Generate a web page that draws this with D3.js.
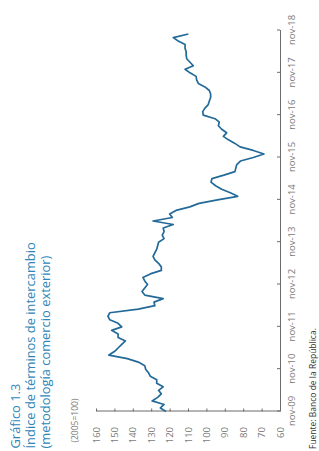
<!DOCTYPE html>
<html>
<head>
<meta charset="utf-8">
<style>
  body { margin: 0; background: #fff; }
  svg { display: block; font-family: "Open Sans", sans-serif; }
</style>
</head>
<body>
<svg width="319" height="451" id="chart"></svg>
<script src="https://cdnjs.cloudflare.com/ajax/libs/d3/7.8.5/d3.min.js"></script>
<script>

// monthly index, nov-09 .. oct-18
const values = [
  122, 125, 123, 129.5, 126.5, 124.5, 126, 123.5, 127, 127, 130.5, 131.5,
  133, 133.5, 137, 143, 153, 150, 148, 146, 144, 148, 148, 151.5,
  146, 148, 152.5, 153.5, 152.5, 137, 128, 128.5, 123.5, 133.5, 135, 133.5,
  132, 133.5, 134.5, 130.5, 124.5, 124.5, 126, 128, 129, 128, 127, 126.5,
  126, 123, 124, 123, 123.5, 118, 129, 118.5, 120, 116.5, 109, 104,
  94, 83, 87, 91.7, 95, 97.5, 97, 90.5, 84.5, 84, 83.5, 81.5,
  74.5, 68.7, 74.5, 81.7, 84.5, 88, 90.8, 89, 91.7, 93.5, 93, 95.3,
  101.7, 102, 100.8, 99, 98.4, 97.7, 97.7, 98.4, 100.8, 104.4, 105.3, 105.6,
  108.9, 111.6, 107.1, 108.9, 110.7, 111, 111, 111.6, 111.6, 115.3, 118, 109.8
];
const yearLabels = ['nov-09', 'nov-10', 'nov-11', 'nov-12', 'nov-13',
                    'nov-14', 'nov-15', 'nov-16', 'nov-17', 'nov-18'];
const yTicks = [60, 70, 80, 90, 100, 110, 120, 130, 140, 150, 160];
const titleLines = ['Gráfico 1.3', 'Índice de términos de intercambio', '(metodología comercio exterior)'];

const svg = d3.select('#chart');
const W = 381, H = 184;
const axisColor = '#6b6b6b', labelColor = '#7a7a7a';

// chart is drawn unrotated, then turned a quarter to the left
const g = svg.append('g').attr('transform', 'translate(96,411.5) rotate(-90)');

const x = d3.scaleLinear().domain([0, 108]).range([0, W]);
const y = d3.scaleLinear().domain([60, 160]).range([H, 0]);

const yAxis = g.append('g')
  .call(d3.axisLeft(y).tickValues(yTicks).tickSizeInner(-3).tickSizeOuter(0).tickPadding(15.5));

const xAxis = g.append('g')
  .attr('transform', 'translate(0,' + H + ')')
  .call(d3.axisBottom(x).tickValues(d3.range(0, 109, 12)).tickSizeInner(-3).tickSizeOuter(0).tickPadding(8.5)
    .tickFormat((d, i) => yearLabels[i]));

[yAxis, xAxis].forEach(a => {
  a.select('.domain').attr('stroke', axisColor).attr('stroke-width', 1);
  a.selectAll('line').attr('stroke', axisColor);
  a.selectAll('text').attr('fill', labelColor).attr('font-size', 9.5)
    .attr('font-family', '"Open Sans", sans-serif');
});

const line = d3.line().x((d, i) => x(i)).y(d => y(d));

g.append('path')
  .datum(values)
  .attr('fill', 'none')
  .attr('stroke', '#236a99')
  .attr('stroke-width', 1.7)
  .attr('stroke-linejoin', 'round')
  .attr('d', line);

// titles, rotated
function rotText(px, py, txt) {
  return svg.append('text')
    .attr('transform', 'translate(' + px + ',' + py + ') rotate(-90)')
    .text(txt);
}

titleLines.forEach((t, i) => {
  rotText(20 + i * 15, 448.5, t).attr('fill', '#2e86b8').attr('font-size', 12.9);
});

rotText(78, 442.5, '(2005=100)').attr('fill', labelColor).attr('font-size', 8.5);
rotText(316, 449, 'Fuente: Banco de la República.').attr('fill', '#333').attr('font-size', 8.5);

</script>
</body>
</html>
